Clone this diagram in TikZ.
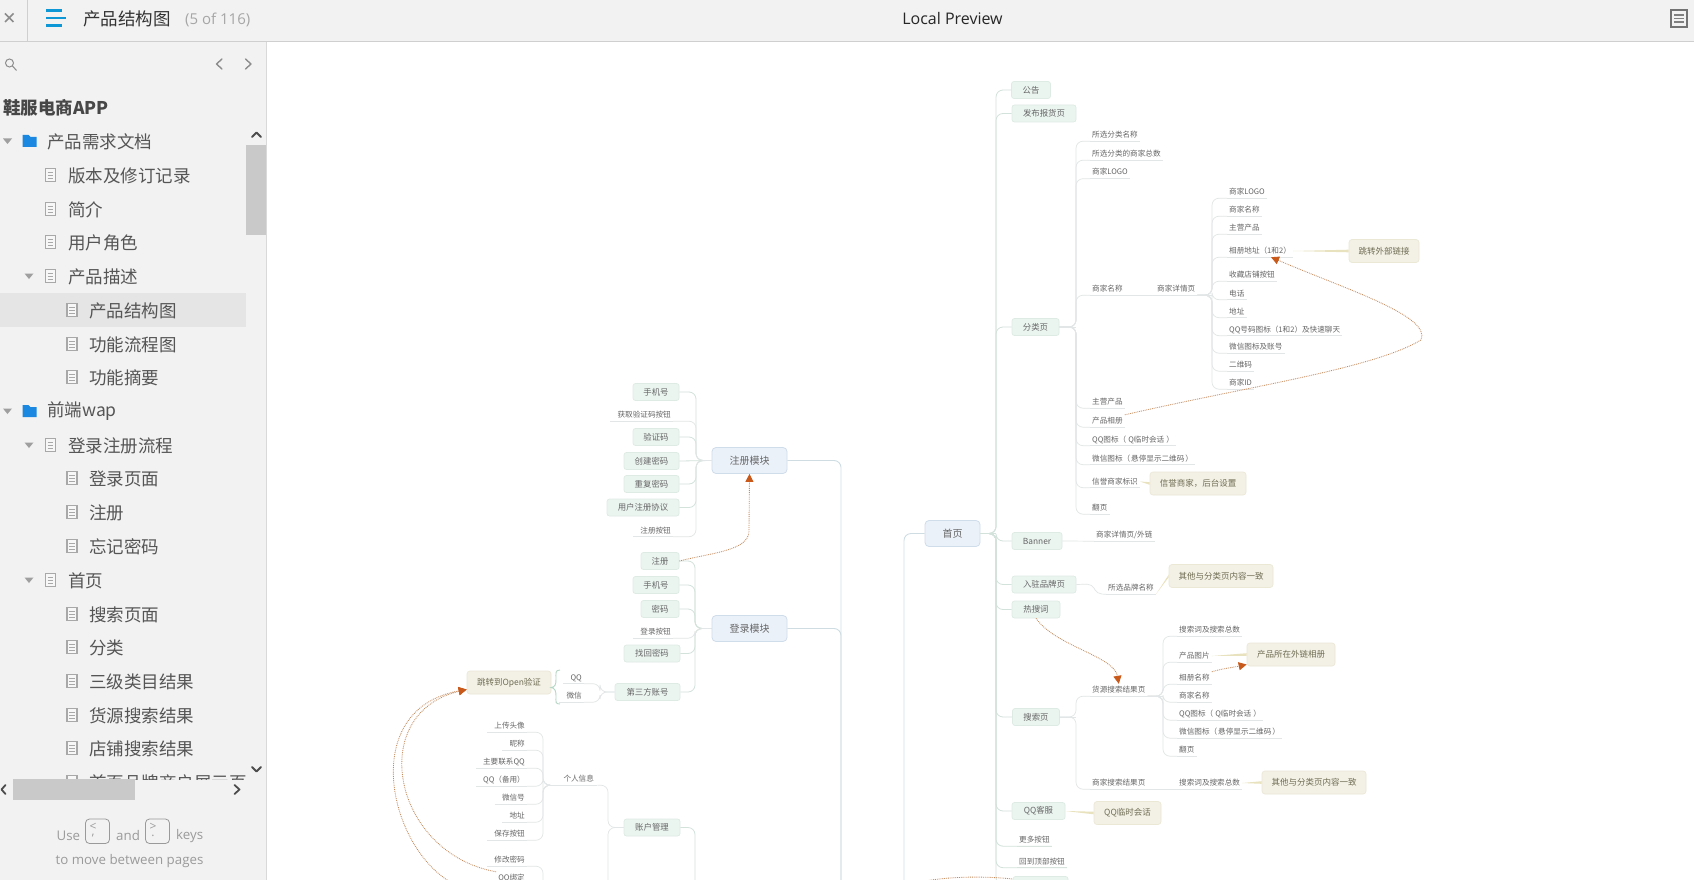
\documentclass[tikz,border=0pt]{standalone}
\usepackage{fontspec}
\usetikzlibrary{arrows.meta}
\setmainfont{Noto Sans CJK SC}
\newfontfamily\osf{Open Sans}
\definecolor{barbg}{HTML}{F2F2F2}
\definecolor{hilite}{HTML}{E5E5E5}
\definecolor{barline}{HTML}{CFCFCF}
\definecolor{thumb}{HTML}{C9C9C9}
\definecolor{sbtxt}{HTML}{555555}
\definecolor{icong}{HTML}{A8A8A8}
\definecolor{hamb}{HTML}{0E97D6}
\definecolor{folderb}{HTML}{1A88E0}
\definecolor{footg}{HTML}{9A9A9A}
\definecolor{mmtxt}{HTML}{666666}
\definecolor{gfill}{HTML}{EBF5F0}
\definecolor{gline}{HTML}{DDEBE4}
\definecolor{bfill}{HTML}{EBF1F9}
\definecolor{bline}{HTML}{CFDCEA}
\definecolor{nfill}{HTML}{F3F1E6}
\definecolor{nline}{HTML}{EBE8D6}
\definecolor{ntxt}{HTML}{6F6C52}
\definecolor{nlink}{HTML}{E8E2BE}
\definecolor{lkmain}{HTML}{CFDDE3}
\definecolor{lkgreen}{HTML}{D3E2DB}
\definecolor{lklite}{HTML}{E2E6E6}
\definecolor{relc}{HTML}{C48A5C}
\definecolor{relh}{HTML}{C8591A}
\definecolor{bracec}{HTML}{B4D6C4}
\tikzset{
  gbox/.style={draw=gline,fill=gfill,rounded corners=2.5pt,line width=.7pt,text=mmtxt,inner sep=0pt,minimum height=17pt,font=\fontsize{8.4}{9}\selectfont},
  bbox/.style={draw=bline,fill=bfill,rounded corners=4pt,line width=.8pt,text=mmtxt,inner sep=0pt,minimum height=26pt,font=\fontsize{10}{11}\selectfont},
  nbox/.style={draw=nline,fill=nfill,rounded corners=3pt,line width=.7pt,text=ntxt,inner sep=0pt,minimum height=23pt,font=\fontsize{8.5}{9}\selectfont},
  lftxt/.style={text=mmtxt,inner xsep=2pt,inner ysep=1.5pt,text height=7pt,text depth=2pt,font=\fontsize{7.6}{8}\selectfont},
  ulline/.style={lklite,line width=.7pt},
  lkm/.style={lkmain,line width=.9pt},
  lkg/.style={lkgreen,line width=.8pt},
  lkl/.style={lklite,line width=.7pt},
  rel/.style={relc,line width=.85pt,densely dotted},
  relarrow/.style={rel,-{Triangle[length=8pt,width=8pt,color=relh]}},
  sbt/.style={text=sbtxt,anchor=west,inner sep=0pt,yshift=-.6pt,font=\fontsize{17.5}{18}\selectfont},
  chev/.style={line width=1.4pt,line cap=round,line join=round},
  foot/.style={text=footg,inner sep=0pt,font=\osf\fontsize{13.3}{15}\selectfont},
}
% name, cx, cy, width, text
\newcommand{\mygn}[5]{\node[gbox,minimum width=#4pt] (#1) at (#2,#3) {#5};}
\newcommand{\mynt}[5]{\node[nbox,minimum width=#4pt] (#1) at (#2,#3) {#5};}
\newcommand{\mybn}[5]{\node[bbox,minimum width=#4pt] (#1) at (#2,#3) {#5};}
% leaf, text left edge at x
\newcommand{\mylfL}[4]{\node[lftxt,anchor=west] (#1) at (#2-2,#3) {#4}; \draw[ulline] (#1.south west) -- (#1.south east);}
% leaf, text right edge at x
\newcommand{\mylfR}[4]{\node[lftxt,anchor=east] (#1) at (#2+2,#3) {#4}; \draw[ulline] ([xshift=-5pt]#1.south west) -- (#1.south east);}
% style, from, trunk, to
\newcommand{\mylk}[4]{\draw[#1,rounded corners=7pt] (#2) -- (#2 -| #3) -- (#3 |- #4) -- (#4);}
\newcommand{\mylkd}[4]{\draw[#1,rounded corners=7pt] (#2) -- (#2 -| #3) -- (#4);}
\newcommand{\mynl}[2]{\fill[nlink] (#1) -- ([yshift=-1.3pt]#2) -- ([yshift=1.3pt]#2) -- cycle;}
% sidebar
\newcommand{\mydoc}[2]{\draw[icong,line width=1.1pt,fill=barbg!60!white] (#1-5,#2-6.5) rectangle (#1+5,#2+6.5);
  \draw[icong,line width=.9pt] (#1-2.8,#2-3) -- (#1+2.8,#2-3) (#1-2.8,#2) -- (#1+2.8,#2) (#1-2.8,#2+3) -- (#1+2.8,#2+3);}
\newcommand{\myfold}[2]{\fill[folderb] (#1-7,#2-6) -- (#1-1,#2-6) -- (#1+1,#2-4) -- (#1+7,#2-4) -- (#1+7,#2+6) -- (#1-7,#2+6) -- cycle;}
\newcommand{\mytri}[2]{\fill[gray!75] (#1-4.5,#2-2.5) -- (#1+4.5,#2-2.5) -- (#1,#2+3) -- cycle;}
\begin{document}
\begin{tikzpicture}[x=1pt,y=-1pt]
\useasboundingbox (0,0) rectangle (1694,880);
\fill[white] (0,0) rectangle (1694,880);
\begin{scope}[yshift=-1pt]
% ---------- diagram trunks ----------
\coordinate (TR) at (841,0);
\coordinate (TH) at (904,0);
\coordinate (TM) at (996,0);
\coordinate (TC) at (1076,0);
\coordinate (TD) at (1212,0);
\coordinate (TS) at (1163,0);
\coordinate (TA) at (696,0);
\coordinate (TB) at (695,0);
\coordinate (TP) at (608,0);
\coordinate (TI) at (543,0);
\coordinate (TQ) at (600,0);
\coordinate (rb) at (841,884);
\coordinate (hb) at (904,884);
\coordinate (ab) at (695,884);
\coordinate (pb) at (608,884);
\coordinate (ib) at (543,884);
\coordinate (off1) at (452,882);
\coordinate (off2) at (915,882);
% ---------- nodes: home branch ----------
\mybn{home}{952.5}{532.5}{55}{首页}
\mygn{notice}{1031}{89}{39}{公告}
\mygn{publish}{1044}{112.5}{64}{发布报货页}
\mygn{cat}{1035.5}{326}{47}{分类页}
\mygn{banner}{1037}{540}{50}{Banner}
\mygn{brand}{1044}{583.5}{64}{入驻品牌页}
\mygn{hot}{1036}{608.5}{48}{热搜词}
\mygn{search}{1036}{716}{47}{搜索页}
\mygn{qqkf}{1038.5}{810}{53}{QQ客服}
\mygn{goods}{1040.5}{884}{55}{货源入驻}
\mylfL{more}{1019}{839}{更多按钮}
\mylfL{totop}{1019}{860.5}{回到顶部按钮}
% category children
\mylfL{c1}{1092}{134}{所选分类名称}
\mylfL{c2}{1092}{153}{所选分类的商家总数}
\mylfL{c3}{1092}{171.5}{商家LOGO}
\mylfL{c4}{1092}{288}{商家名称}
\mylfL{c5}{1157}{288}{商家详情页}
\mylfL{c6}{1092}{401}{主营产品}
\mylfL{c7}{1092}{420}{产品相册}
\mylfL{c8}{1092}{438.5}{QQ图标（\hspace{2pt}Q临时会话\hspace{2pt}）}
\mylfL{c9}{1092}{457.5}{微信图标（\hspace{1pt}悬停显示二维码\hspace{1pt}）}
\mylfL{c10}{1092}{480.5}{信誉商家标识}
\mylfL{c11}{1092}{507}{翻页}
\mylfL{d1}{1229}{191}{商家LOGO}
\mylfL{d2}{1229}{209}{商家名称}
\mylfL{d3}{1229}{227}{主营产品}
\mylfL{d4}{1229}{250}{相册地址（1和2）}
\mylfL{d5}{1229}{274}{收藏店铺按钮}
\mylfL{d6}{1229}{292.5}{电话}
\mylfL{d7}{1229}{310.5}{地址}
\mylfL{d8}{1229}{328.5}{QQ号码图标（1和2）及快速聊天}
\mylfL{d9}{1229}{346}{微信图标及账号}
\mylfL{d10}{1229}{364}{二维码}
\mylfL{d11}{1229}{382}{商家ID}
\mynt{nd4}{1384}{250}{70}{跳转外部链接}
\mynt{nc10}{1198}{482.5}{96}{信誉商家，后台设置}
% banner, brand
\mylfL{b1}{1096}{534}{商家详情页/外链}
\mylfL{br1}{1108}{587}{所选品牌名称}
\mynt{nbr}{1221}{575}{104}{其他与分类页内容一致}
% search
\mylfL{s1}{1092}{689}{货源搜索结果页}
\mylfL{s2}{1092}{782}{商家搜索结果页}
\mylfL{t1}{1179}{629}{搜索词及搜索总数}
\mylfL{t2}{1179}{655}{产品图片}
\mylfL{t3}{1179}{677}{相册名称}
\mylfL{t4}{1179}{695}{商家名称}
\mylfL{t5}{1179}{713}{QQ图标（\hspace{2pt}Q临时会话\hspace{2pt}）}
\mylfL{t6}{1179}{731}{微信图标（\hspace{1pt}悬停显示二维码\hspace{1pt}）}
\mylfL{t7}{1179}{749}{翻页}
\mylfL{t8}{1179}{782}{搜索词及搜索总数}
\mynt{nt2}{1291}{653.5}{88}{产品所在外链相册}
\mynt{nt8}{1314}{781.5}{104}{其他与分类页内容一致}
\mynt{nqq}{1127.5}{812}{67}{QQ临时会话}
% ---------- nodes: left ----------
\mybn{reg}{749.5}{459.5}{75}{注册模块}
\mybn{login}{749.5}{627.5}{75}{登录模块}
\mygn{r1}{656}{391}{46}{手机号}
\mylfR{r2}{671}{414}{获取验证码按钮}
\mygn{r3}{656}{436}{46}{验证码}
\mygn{r4}{651.5}{460}{55}{创建密码}
\mygn{r5}{651.5}{483}{55}{重复密码}
\mygn{r6}{643}{506.5}{72}{用户注册协议}
\mylfR{r7}{671}{529.5}{注册按钮}
\mygn{l1}{660}{560}{38}{注册}
\mygn{l2}{656}{584}{46}{手机号}
\mygn{l3}{660}{608}{38}{密码}
\mylfR{l4}{671}{631}{登录按钮}
\mygn{l5}{652}{652.5}{56}{找回密码}
\mygn{l6}{647.5}{691}{65}{第三方账号}
\mynt{nopen}{509}{681.5}{84}{跳转到Open验证}
\mylfR{q1}{582}{676.5}{QQ}
\mylfR{q2}{582}{695}{微信}
\mygn{acct}{652}{826.5}{56}{账户管理}
\node[lftxt,anchor=west,inner xsep=0pt,minimum width=48pt,align=left] (info) at (549,778) {\hspace{11pt}个人信息};
\draw[ulline] (info.south west) -- (info.south east);
\mylfR{i1}{525}{725}{上传头像}
\mylfR{i2}{525}{743}{昵称}
\mylfR{i3}{525}{761}{主要联系QQ}
\mylfR{i4}{525}{779}{QQ（备用）}
\mylfR{i5}{525}{797}{微信号}
\mylfR{i6}{525}{815}{地址}
\mylfR{i7}{525}{833}{保存按钮}
\mylfR{i8}{525}{859}{修改密码}
\mylfR{i9}{525}{877}{QQ绑定}
% ---------- connectors ----------
\mylkd{lkm}{reg.east}{TR}{rb}
\mylkd{lkm}{login.east}{TR}{rb}
\mylkd{lkm}{home.west}{TH}{hb}
\draw[lkg] (home.east) -- (home.east -| TM);
\mylk{lkg}{notice.west}{TM}{home.east}
\mylk{lkg}{publish.west}{TM}{home.east}
\mylk{lkg}{cat.west}{TM}{home.east}
\mylk{lkg}{banner.west}{TM}{home.east}
\mylk{lkg}{brand.west}{TM}{home.east}
\mylk{lkg}{hot.west}{TM}{home.east}
\mylk{lkg}{search.west}{TM}{home.east}
\mylk{lkg}{qqkf.west}{TM}{home.east}
\mylk{lkg}{goods.west}{TM}{home.east}
\mylk{lkg}{more.south east}{TM}{home.east}
\mylk{lkg}{totop.south east}{TM}{home.east}
\draw[lkl] (cat.east) -- (cat.east -| TC);
\foreach \n in {c1,c2,c3,c4,c6,c7,c8,c9,c10,c11}{\mylk{lkl}{cat.east}{TC}{\n.south west}}
\draw[lkl] (c4.south east) -- (c5.south west);
\draw[lkl] (c5.south east) -- (c5.south east -| TD);
\foreach \n in {d1,d2,d3,d4,d5,d6,d7,d8,d9,d10,d11}{\mylk{lkl}{c5.south east}{TD}{\n.south west}}
\mynl{d4.east}{nd4.west}
\mynl{c10.east}{nc10.west}
\draw[lkl] (banner.east) to[out=0,in=180] (b1.south west);
\draw[lkl,rounded corners=5pt] (brand.east) -- (1092,583) -- (1097,593) -- (br1.south west);
\mynl{br1.south east}{nbr.west}
\draw[lkl] (search.east) -- (search.east -| TC);
\mylk{lkl}{search.east}{TC}{s1.south west}
\mylk{lkl}{search.east}{TC}{s2.south west}
\draw[lkl] (s1.south east) -- (s1.south east -| TS);
\foreach \n in {t1,t2,t3,t4,t5,t6,t7}{\mylk{lkl}{s1.south east}{TS}{\n.south west}}
\draw[lkl] (s2.south east) -- (t8.south west);
\mynl{t2.east}{nt2.west}
\mynl{t8.east}{nt8.west}
\mynl{qqkf.east}{nqq.west}
% left groups
\draw[lkg] (r4.east) -- (reg.west);
\foreach \n in {r1,r3,r5,r6}{\mylk{lkg}{\n.east}{TA}{reg.west}}
\mylk{lkl}{r2.south east}{TA}{reg.west}
\mylk{lkl}{r7.south east}{TA}{reg.west}
\foreach \n in {l1,l2,l3,l5,l6}{\mylk{lkg}{\n.east}{TB}{login.west}}
\mylk{lkl}{l4.south east}{TB}{login.west}
\mylk{lkl}{q1.south east}{TQ}{l6.west}
\mylk{lkl}{q2.south east}{TQ}{l6.west}
\draw[bracec,line width=.9pt] (560,669) .. controls (555,669) and (556,672) .. (556,678) .. controls (556,684) and (555,686) .. (551,686.5) .. controls (555,687) and (556,690) .. (556,695) .. controls (556,701) and (555,703) .. (560,703);
\mylkd{lkg}{acct.east}{TB}{ab}
\mylk{lkl}{acct.west}{TP}{info.south east}
\mylkd{lkl}{acct.west}{TP}{pb}
\foreach \n in {i1,i2,i3,i4,i5,i6,i7}{\mylk{lkl}{\n.south east}{TI}{info.south west}}
\mylkd{lkl}{i8.south east}{TI}{ib}
% relations
\draw[relarrow] (c7.north east) .. controls (1250,385) and (1372,368) .. (1421,339) .. controls (1432,315) and (1345,288) .. ([xshift=11pt]d4.south);
\draw[relarrow] (hot.south) .. controls (1055,645) and (1114,655) .. (s1.north);
\draw[relarrow] (t3.north east) .. controls (1220,668) and (1235,666) .. ([yshift=-10pt]nt2.west);
\draw[relarrow] (l1.east) .. controls (710,552) and (749,550) .. (749,530) -- (reg.south);
\draw[relarrow] (i9.north west) .. controls (392,852) and (366,712) .. ([yshift=-7pt]nopen.west);
\draw[relarrow] (off1) .. controls (388,846) and (358,708) .. ([yshift=-7pt]nopen.west);
\draw[rel] (off2) .. controls (945,875) and (985,875) .. ([yshift=6pt]goods.west);
\end{scope}
% ---------- top bar ----------
\fill[barbg] (0,0) rectangle (1694,41);
\draw[barline,line width=1.3pt] (0,41.5) -- (1694,41.5);
\draw[barline,line width=.8pt] (27.5,0) -- (27.5,41);
\draw[gray!90,line width=1.6pt] (5,13.5) -- (13.5,22) (13.5,13.5) -- (5,22);
\draw[hamb,line width=2.4pt] (46,10.5) -- (62,10.5) (46,18) -- (66,18) (46,25.5) -- (62,25.5);
\node[inner sep=0pt,anchor=west,text=black!80,font=\fontsize{17.5}{18}\selectfont] (ttl) at (83,18.5) {产品结构图};
\node[inner sep=0pt,anchor=west,text=black!35,font=\osf\fontsize{15}{16}\selectfont] (pgn) at (185,19.5) {(5 of 116)};
\node[inner sep=0pt,text=black!85,font=\osf\fontsize{16}{17}\selectfont] (prev) at (952.5,19) {Local Preview};
\draw[gray!110,line width=2.4pt,fill=barbg] (1671,10) rectangle (1687,27);
\draw[gray,line width=1.6pt] (1674,15) -- (1684,15) (1674,18.5) -- (1684,18.5) (1674,22) -- (1684,22);
% ---------- sidebar ----------
\fill[barbg] (0,42) rectangle (266,880);
\draw[gray!30,line width=.8pt] (266.5,42) -- (266.5,880);
\draw[gray!90,line width=1pt] (9.5,63) circle (4);
\draw[gray!90,line width=1pt] (12.5,66) -- (16.5,70.5);
\draw[chev,gray!90] (222,59) -- (216.5,64) -- (222,69);
\draw[chev,gray!90] (245.5,59) -- (251,64) -- (245.5,69);
\node[sbt,font=\bfseries\fontsize{17.5}{18}\selectfont,text=black!72] (appt) at (3,107) {鞋服电商APP};
\fill[hilite] (0,293) rectangle (246,327);
\begin{scope}
\clip (0,125) rectangle (246,779);
\mytri{7.5}{141}\myfold{29.5}{141}\node[sbt] (s01) at (47,141) {产品需求文档};
\mydoc{50.5}{175}\node[sbt] (s02) at (68,175) {版本及修订记录};
\mydoc{50.5}{209}\node[sbt] (s03) at (68,209) {简介};
\mydoc{50.5}{242}\node[sbt] (s04) at (68,242) {用户角色};
\mytri{29}{276}\mydoc{50.5}{276}\node[sbt] (s05) at (68,276) {产品描述};
\mydoc{72}{310}\node[sbt] (s06) at (89,310) {产品结构图};
\mydoc{72}{344}\node[sbt] (s07) at (89,344) {功能流程图};
\mydoc{72}{377}\node[sbt] (s08) at (89,377) {功能摘要};
\mytri{7.5}{411}\myfold{29.5}{411}\node[sbt] (s09) at (47,411) {前端wap};
\mytri{29}{445}\mydoc{50.5}{445}\node[sbt] (s10) at (68,445) {登录注册流程};
\mydoc{72}{478}\node[sbt] (s11) at (89,478.5) {登录页面};
\mydoc{72}{512}\node[sbt] (s12) at (89,512) {注册};
\mydoc{72}{546}\node[sbt] (s13) at (89,546) {忘记密码};
\mytri{29}{580}\mydoc{50.5}{580}\node[sbt] (s14) at (68,580) {首页};
\mydoc{72}{614}\node[sbt] (s15) at (89,614) {搜索页面};
\mydoc{72}{647}\node[sbt] (s16) at (89,647.5) {分类};
\mydoc{72}{681}\node[sbt] (s17) at (89,681) {三级类目结果};
\mydoc{72}{715}\node[sbt] (s18) at (89,715) {货源搜索结果};
\mydoc{72}{748}\node[sbt] (s19) at (89,748.5) {店铺搜索结果};
\mydoc{72}{782}\node[sbt] (s20) at (89,782) {首页品牌商户展示页面};
\end{scope}
% scrollbars
\fill[thumb] (246,145) rectangle (266,235);
\draw[chev,black!70,line width=1.8pt] (252,137) -- (256.5,132.5) -- (261,137);
\draw[chev,black!70,line width=1.8pt] (252,767) -- (256.5,771.5) -- (261,767);
\fill[thumb] (13,779) rectangle (135,800);
\draw[chev,black!70,line width=1.8pt] (5.5,785) -- (1.5,789.5) -- (5.5,794);
\draw[chev,black!70,line width=1.8pt] (234.5,785) -- (239.5,789.5) -- (234.5,794);
% footer
\node[foot,anchor=west] (fu) at (56.5,836) {Use};
\node[foot,anchor=west] (fa) at (116,836) {and};
\node[foot,anchor=west] (fk) at (176,836) {keys};
\node[foot] (fl) at (129.5,861) {to move between pages};
\draw[footg,line width=.8pt,rounded corners=4pt] (85.5,819) rectangle (109.5,843.5);
\draw[footg,line width=.8pt,rounded corners=4pt] (145.5,819) rectangle (169.5,843.5);
\node[foot,font=\osf\fontsize{12}{13}\selectfont] (k1a) at (93,826.5) {<};
\node[foot,font=\osf\fontsize{12}{13}\selectfont] (k1b) at (93,835.5) {,};
\node[foot,font=\osf\fontsize{12}{13}\selectfont] (k2a) at (153,826.5) {>};
\node[foot,font=\osf\fontsize{12}{13}\selectfont] (k2b) at (153,835.5) {.};
\end{tikzpicture}
\end{document}
